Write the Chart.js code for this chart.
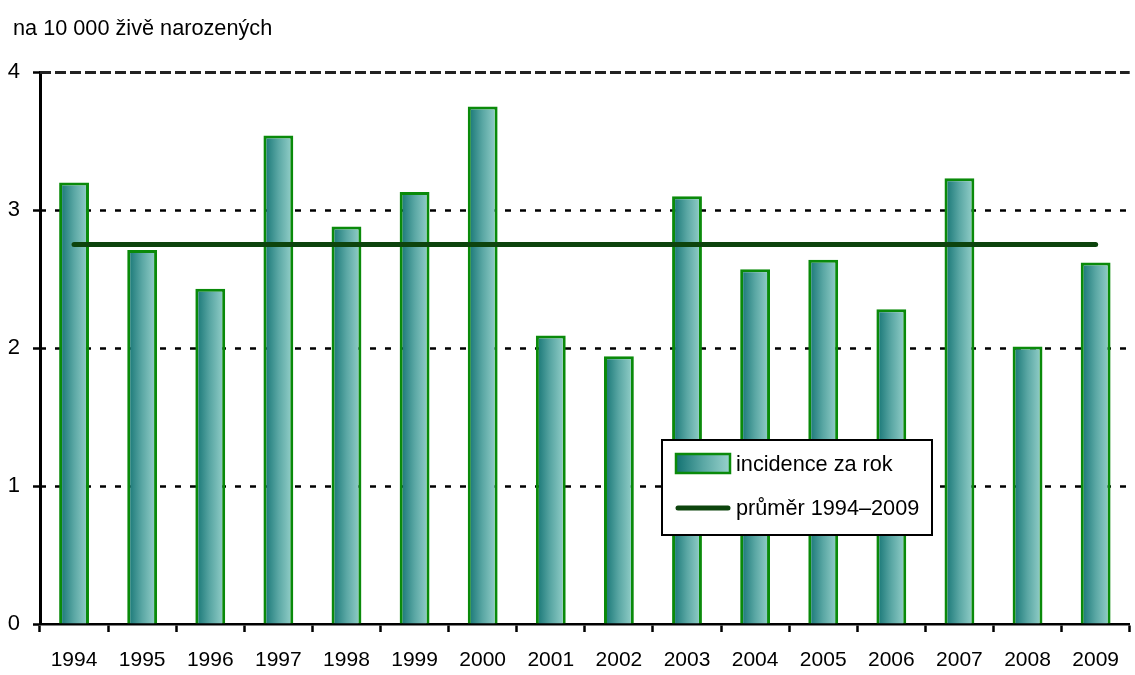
<!DOCTYPE html>
<html>
<head>
<meta charset="utf-8">
<script src="https://cdn.jsdelivr.net/npm/chart.js@4/dist/chart.umd.min.js"></script>
<style>
  html, body { margin: 0; padding: 0; background: #fff; }
  #wrap { width: 1135px; height: 675px; }
</style>
</head>
<body>
<div id="wrap"><canvas id="incChart"></canvas></div>
<script>
const years = ['1994', '1995', '1996', '1997', '1998', '1999', '2000', '2001',
               '2002', '2003', '2004', '2005', '2006', '2007', '2008', '2009'];
const incidence = [3.20, 2.71, 2.43, 3.54, 2.88, 3.13, 3.75, 2.09,
                   1.94, 3.10, 2.57, 2.64, 2.28, 3.23, 2.01, 2.62];
const average = 2.75;
const yTicks = [0, 1, 2, 3, 4];
const unitLabel = 'na 10 000 živě narozených';
const barLabel = 'incidence za rok';
const avgLabel = 'průměr 1994–2009';

const FONT = '"Liberation Sans", Arial, sans-serif';
const BAR_W = 30;

function tealGradient(ctx, x0, x1) {
  const g = ctx.createLinearGradient(x0, 0, x1, 0);
  g.addColorStop(0, '#127272');
  g.addColorStop(0.5, '#5aa7a4');
  g.addColorStop(1, '#98d2cc');
  return g;
}

// unit text above the plot
const headerText = {
  id: 'headerText',
  afterDraw(chart) {
    const ctx = chart.ctx;
    ctx.save();
    ctx.font = '21.7px ' + FONT;
    ctx.fillStyle = '#000';
    ctx.textBaseline = 'middle';
    ctx.fillText(unitLabel, 13, 29);
    ctx.restore();
  }
};

// dotted horizontal grid lines
const dashGrid = {
  id: 'dashGrid',
  beforeDatasetsDraw(chart) {
    const {ctx, chartArea: {left, right}, scales: {y}} = chart;
    ctx.save();
    yTicks.forEach(v => {
      if (v === 0) return;
      const py = Math.round(y.getPixelForValue(v)) + 0.5;
      ctx.beginPath();
      if (v === yTicks[yTicks.length - 1]) {
        ctx.strokeStyle = '#222';
        ctx.lineWidth = 3;
        ctx.setLineDash([11, 4]);
      } else {
        ctx.strokeStyle = '#000';
        ctx.lineWidth = 2.5;
        ctx.setLineDash([6, 9]);
      }
      ctx.moveTo(left, py);
      ctx.lineTo(right, py);
      ctx.stroke();
    });
    ctx.restore();
  }
};

// legend box inside the plot
const boxLegend = {
  id: 'boxLegend',
  afterDraw(chart) {
    const ctx = chart.ctx;
    const bx = 662, by = 440, bw = 270, bh = 95;
    ctx.save();
    ctx.fillStyle = '#fff';
    ctx.fillRect(bx, by, bw, bh);
    ctx.strokeStyle = '#000';
    ctx.lineWidth = 2;
    ctx.strokeRect(bx, by, bw, bh);

    // bar swatch
    ctx.fillStyle = tealGradient(ctx, 676, 730);
    ctx.fillRect(676, 454, 54, 19);
    ctx.strokeStyle = '#0a8a0a';
    ctx.lineWidth = 2.5;
    ctx.strokeRect(676, 454, 54, 19);

    // line swatch
    ctx.beginPath();
    ctx.strokeStyle = '#0d440d';
    ctx.lineWidth = 5;
    ctx.lineCap = 'round';
    ctx.moveTo(678, 508);
    ctx.lineTo(728, 508);
    ctx.stroke();

    ctx.font = '21.7px ' + FONT;
    ctx.fillStyle = '#000';
    ctx.textBaseline = 'middle';
    ctx.fillText(chart.data.datasets[0].label, 736, 465);
    ctx.fillText(chart.data.datasets[1].label, 736, 509);
    ctx.restore();
  }
};

const config = {
  data: {
    labels: years,
    datasets: [{
      type: 'bar',
      label: barLabel,
      data: incidence,
      order: 1,
      borderColor: '#0a8a0a',
      borderWidth: 3,
      barPercentage: BAR_W / (1095 / years.length),
      categoryPercentage: 1,
      backgroundColor(c) {
        const chart = c.chart;
        const xs = chart.scales && chart.scales.x;
        if (!xs || c.dataIndex === undefined) return '#4a9d9a';
        const cx = xs.getPixelForValue(c.dataIndex);
        if (!Number.isFinite(cx)) return '#4a9d9a';
        return tealGradient(chart.ctx, cx - BAR_W / 2, cx + BAR_W / 2);
      }
    }, {
      type: 'line',
      label: avgLabel,
      data: years.map(() => average),
      order: 0,
      borderColor: '#0d440d',
      borderWidth: 5,
      borderCapStyle: 'round',
      pointRadius: 0,
      fill: false
    }]
  },
  options: {
    responsive: true,
    maintainAspectRatio: false,
    animation: false,
    layout: { padding: { top: 72, right: 0, left: 0, bottom: 0 } },
    plugins: {
      legend: { display: false },
      tooltip: { enabled: false }
    },
    scales: {
      x: {
        offset: true,
        grid: {
          offset: true,
          drawOnChartArea: false,
          drawTicks: true,
          tickLength: 8,
          tickWidth: 2.5,
          tickColor: '#000'
        },
        border: { color: '#000', width: 2.5 },
        ticks: {
          color: '#000',
          font: { family: FONT, size: 21 },
          padding: 16,
          maxRotation: 0,
          autoSkip: false
        },
        afterFit(s) { s.height = 51; }
      },
      y: {
        min: 0,
        max: 4,
        afterBuildTicks(s) { s.ticks = yTicks.map(v => ({value: v})); },
        grid: {
          drawOnChartArea: false,
          drawTicks: true,
          tickLength: 7,
          tickWidth: 2.5,
          tickColor: '#000'
        },
        border: { color: '#000', width: 3 },
        ticks: {
          color: '#000',
          font: { family: FONT, size: 22 },
          padding: 13
        },
        afterFit(s) { s.width = 40; }
      }
    }
  },
  plugins: [dashGrid, headerText, boxLegend]
};

const incChart = new Chart(document.getElementById('incChart'), config);
</script>
</body>
</html>
